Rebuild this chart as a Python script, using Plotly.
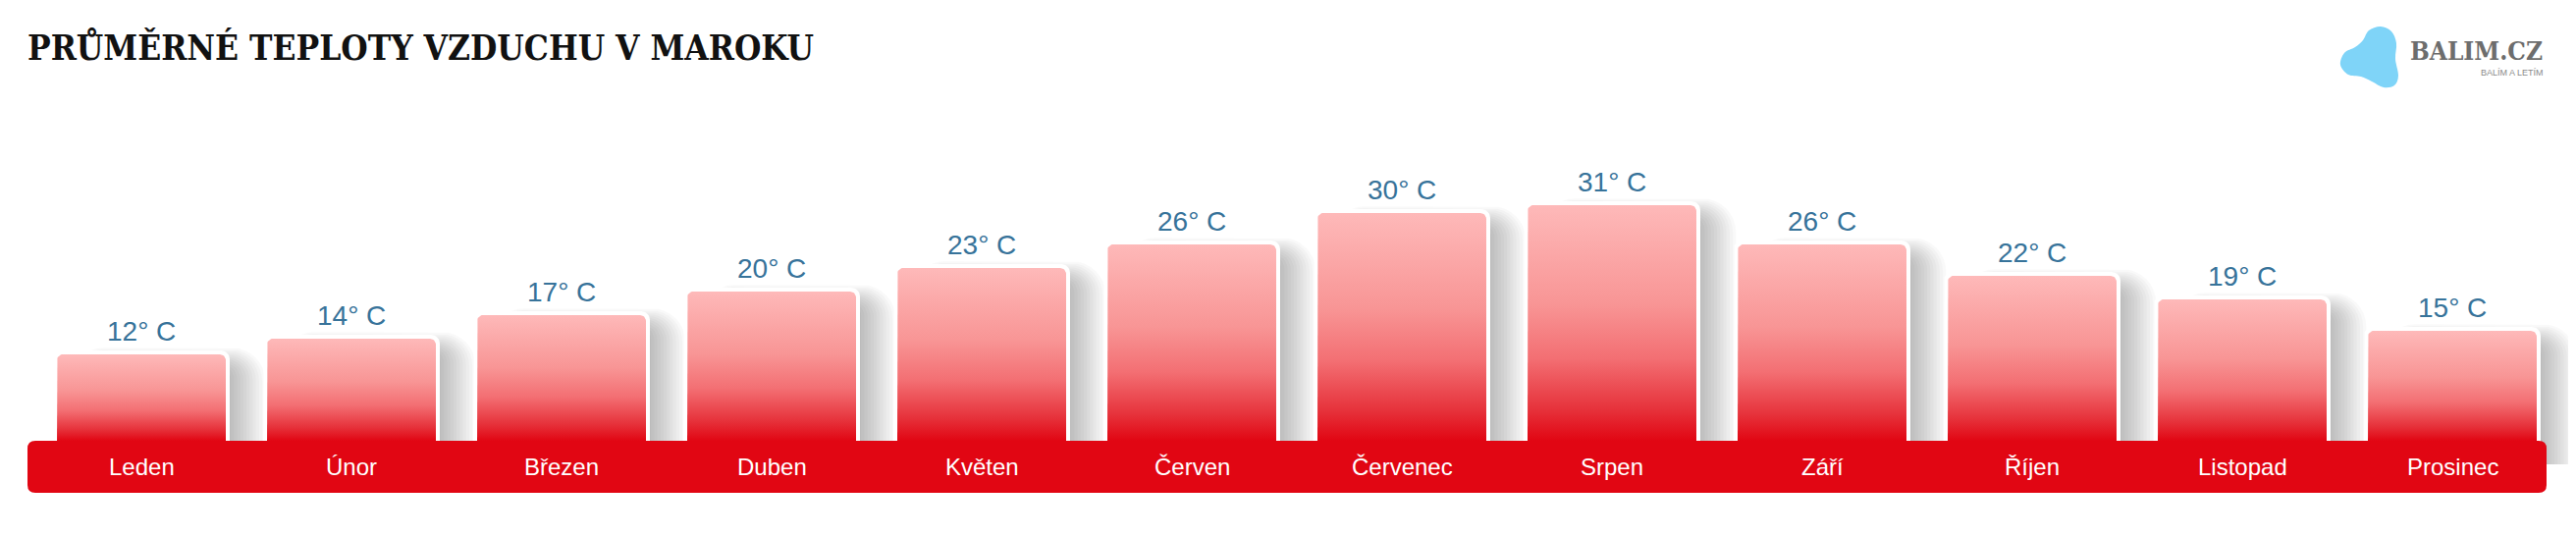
import math
import plotly.graph_objects as go

# ---------------- data ----------------
months = ["Leden", "Únor", "Březen", "Duben", "Květen", "Červen",
          "Červenec", "Srpen", "Září", "Říjen", "Listopad", "Prosinec"]
temps = [12, 14, 17, 20, 23, 26, 30, 31, 26, 22, 19, 15]
value_labels = [f"{t}° C" for t in temps]
title_text = "PRŮMĚRNÉ TEPLOTY VZDUCHU V MAROKU"
logo_text = "BALIM.CZ"
logo_sub = "BALÍM A LETÍM"

# ---------------- geometry / style ----------------
OFF = 8                      # default body margin of the html page
W, H = 2624 - 2 * OFF, 546 - 2 * OFF
PXX = 214.0                  # pixels per category step
PXY = 8.0                    # pixels per degree
X0_PX = 144.0 - OFF          # pixel of first category centre (figure coords)
Y0_PX = 457.0 - OFF          # pixel of 0 degrees (figure coords)
xr = [(-X0_PX) / PXX, (W - X0_PX) / PXX]
yr = [(Y0_PX - H) / PXY, Y0_PX / PXY]

HALF_W = 86 / PXX
RED = "#e10613"
LABEL_BLUE = "#37739a"
FONT = "Liberation Sans, Arial, Helvetica, sans-serif"
SLAB = "DejaVu Serif Condensed, DejaVu Serif, serif"
grad = [[0.0, "#e10613"], [0.13, "#e6313a"], [0.35, "#f36f73"],
        [0.58, "#f89595"], [1.0, "#feb9b9"]]


def dx(px):
    return px / PXX


def dy(px):
    return px / PXY


def ypx(page_px):
    """page pixel row -> data y"""
    return (Y0_PX - (page_px - OFF)) / PXY


def xpx(page_px):
    return ((page_px - OFF) - X0_PX) / PXX


def rounded_top(xl, xrgt, top, rpx, bottom, n=8):
    rx, ry = dx(rpx), dy(rpx)
    xs, ys = [xl], [bottom]
    for k in range(n + 1):
        a = math.pi - k * (math.pi / 2) / n
        xs.append(xl + rx + rx * math.cos(a))
        ys.append(top - ry + ry * math.sin(a))
    for k in range(n + 1):
        a = math.pi / 2 - k * (math.pi / 2) / n
        xs.append(xrgt - rx + rx * math.cos(a))
        ys.append(top - ry + ry * math.sin(a))
    xs += [xrgt, xl]
    ys += [bottom, bottom]
    return xs, ys


def px2paper(x, y):
    return (x - OFF) / W, 1 - (y - OFF) / H


fig = go.Figure()

# soft drop shadows (to the right of each bar), emulating a blur
NL = 12
for i, t in enumerate(temps):
    for k in range(1, NL + 1):
        w = 2 + k * 3.2
        top = t - dy(16 - k * 1.9)
        xs, ys = rounded_top(i - HALF_W + dx(14), i + HALF_W + dx(w),
                             top, 8 + k * 2.2, -2)
        fig.add_trace(go.Scatter(x=xs, y=ys, mode="lines", fill="toself",
                                 fillcolor="rgba(0,0,0,0.022)",
                                 line=dict(width=0), hoverinfo="skip",
                                 showlegend=False))
# white rims
for i, t in enumerate(temps):
    xs, ys = rounded_top(i - HALF_W - dx(4), i + HALF_W + dx(4),
                         t + dy(4), 9, -1)
    fig.add_trace(go.Scatter(x=xs, y=ys, mode="lines", fill="toself",
                             fillcolor="white", line=dict(width=0),
                             hoverinfo="skip", showlegend=False))
# gradient bars
for i, t in enumerate(temps):
    xs, ys = rounded_top(i - HALF_W, i + HALF_W, t, 6, 0)
    fig.add_trace(go.Scatter(
        x=xs, y=ys, mode="lines", fill="toself",
        fillgradient=dict(type="vertical", colorscale=grad, start=1, stop=t),
        line=dict(width=0, color="rgba(0,0,0,0)"),
        hoverinfo="skip", showlegend=False, name=months[i]))

# red band (rounded rectangle)
bx0, bx1 = xpx(28), xpx(2594)
by0, by1 = ypx(502), ypx(449)
rx, ry = dx(8), dy(8)
band_path = (f"M {bx0+rx},{by1} L {bx1-rx},{by1} Q {bx1},{by1} {bx1},{by1-ry} "
             f"L {bx1},{by0+ry} Q {bx1},{by0} {bx1-rx},{by0} "
             f"L {bx0+rx},{by0} Q {bx0},{by0} {bx0},{by0+ry} "
             f"L {bx0},{by1-ry} Q {bx0},{by1} {bx0+rx},{by1} Z")
fig.add_shape(type="path", path=band_path, xref="x", yref="y",
              fillcolor=RED, line=dict(width=0), layer="above")

annotations = []
for i, t in enumerate(temps):
    annotations.append(dict(x=i, y=t, xref="x", yref="y", text=value_labels[i],
                            showarrow=False, yanchor="middle", yshift=24,
                            font=dict(family=FONT, size=28, color=LABEL_BLUE)))
    annotations.append(dict(x=i, y=ypx(475.5), xref="x", yref="y",
                            text=months[i], showarrow=False, yanchor="middle",
                            font=dict(family=FONT, size=24, color="white")))

# title
tx, ty = px2paper(26, 49)
annotations.append(dict(x=tx, y=ty, xref="paper", yref="paper", text=title_text,
                        showarrow=False, xanchor="left", yanchor="middle",
                        font=dict(family=SLAB, size=35, color="#111111",
                                  weight="bold")))
# logo texts
lx, ly = px2paper(2592, 52)
annotations.append(dict(x=lx, y=ly, xref="paper", yref="paper", text=logo_text,
                        showarrow=False, xanchor="right", yanchor="middle",
                        font=dict(family=SLAB, size=26, color="#6d6d6d",
                                  weight="bold")))
sx, sy = px2paper(2593, 74)
annotations.append(dict(x=sx, y=sy, xref="paper", yref="paper", text=logo_sub,
                        showarrow=False, xanchor="right", yanchor="middle",
                        font=dict(family=FONT, size=9, color="#8a8a8a")))

# logo blob: smooth closed curve (Catmull-Rom -> cubic Bezier), page pixels
BLUE = "#7fd4f8"
blob = [(2425, 27), (2436, 32), (2441, 44), (2440, 60), (2443, 77),
        (2439, 87), (2428, 89), (2416, 83), (2405, 78), (2392, 76),
        (2384, 66), (2388, 54), (2399, 48), (2407, 41), (2413, 31)]
n = len(blob)
pp = [px2paper(x, y) for x, y in blob]
path = f"M {pp[0][0]},{pp[0][1]}"
for j in range(n):
    p0, p1, p2, p3 = pp[j - 1], pp[j], pp[(j + 1) % n], pp[(j + 2) % n]
    c1 = (p1[0] + (p2[0] - p0[0]) / 6, p1[1] + (p2[1] - p0[1]) / 6)
    c2 = (p2[0] - (p3[0] - p1[0]) / 6, p2[1] - (p3[1] - p1[1]) / 6)
    path += f" C {c1[0]},{c1[1]} {c2[0]},{c2[1]} {p2[0]},{p2[1]}"
path += " Z"
fig.add_shape(type="path", path=path, xref="paper", yref="paper",
              fillcolor=BLUE, line=dict(width=0), layer="above")

fig.update_layout(
    width=W, height=H, margin=dict(l=0, r=0, t=0, b=0),
    paper_bgcolor="white", plot_bgcolor="white",
    xaxis=dict(range=xr, visible=False, fixedrange=True),
    yaxis=dict(range=yr, visible=False, fixedrange=True),
    annotations=annotations, showlegend=False,
)
fig.write_html("out.html")
